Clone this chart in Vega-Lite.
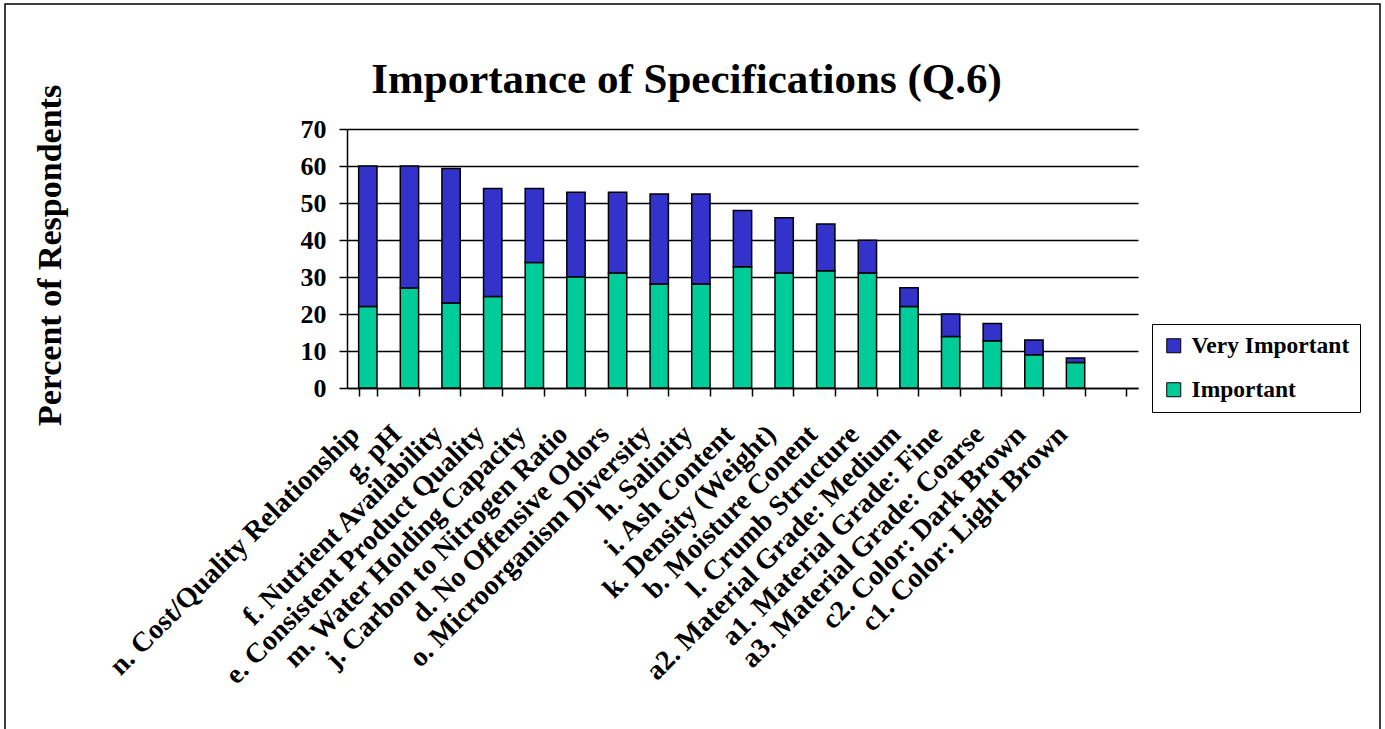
{
  "$schema": "https://vega.github.io/schema/vega-lite/v6.json",
  "width": 1375,
  "height": 727,
  "autosize": {"type": "none"},
  "padding": {"left": 5, "top": 4, "right": 5, "bottom": 0},
  "background": "white",
  "title": {
    "text": "Importance of Specifications (Q.6)",
    "font": "Liberation Serif",
    "fontSize": 43,
    "fontWeight": "bold",
    "color": "black",
    "anchor": "middle",
    "frame": "group",
    "dx": -6,
    "offset": -132,
    "baseline": "alphabetic"
  },
  "data": {
    "values": [
      {"spec": "n. Cost/Quality Relationship", "level": "Important", "percent": 22.0},
      {"spec": "n. Cost/Quality Relationship", "level": "Very Important", "percent": 38.0},
      {"spec": "g. pH", "level": "Important", "percent": 27.0},
      {"spec": "g. pH", "level": "Very Important", "percent": 33.0},
      {"spec": "f. Nutrient Availability", "level": "Important", "percent": 23.0},
      {"spec": "f. Nutrient Availability", "level": "Very Important", "percent": 36.3},
      {"spec": "e. Consistent Product Quality", "level": "Important", "percent": 24.7},
      {"spec": "e. Consistent Product Quality", "level": "Very Important", "percent": 29.2},
      {"spec": "m. Water Holding Capacity", "level": "Important", "percent": 33.9},
      {"spec": "m. Water Holding Capacity", "level": "Very Important", "percent": 20.0},
      {"spec": "j. Carbon to Nitrogen Ratio", "level": "Important", "percent": 30.1},
      {"spec": "j. Carbon to Nitrogen Ratio", "level": "Very Important", "percent": 22.8},
      {"spec": "d. No Offensive Odors", "level": "Important", "percent": 31.1},
      {"spec": "d. No Offensive Odors", "level": "Very Important", "percent": 21.8},
      {"spec": "o. Microorganism Diversity", "level": "Important", "percent": 28.1},
      {"spec": "o. Microorganism Diversity", "level": "Very Important", "percent": 24.3},
      {"spec": "h. Salinity", "level": "Important", "percent": 28.1},
      {"spec": "h. Salinity", "level": "Very Important", "percent": 24.3},
      {"spec": "i. Ash Content", "level": "Important", "percent": 32.8},
      {"spec": "i. Ash Content", "level": "Very Important", "percent": 15.2},
      {"spec": "k. Density (Weight)", "level": "Important", "percent": 31.1},
      {"spec": "k. Density (Weight)", "level": "Very Important", "percent": 14.9},
      {"spec": "b. Moisture Conent", "level": "Important", "percent": 31.7},
      {"spec": "b. Moisture Conent", "level": "Very Important", "percent": 12.6},
      {"spec": "l. Crumb Structure", "level": "Important", "percent": 31.1},
      {"spec": "l. Crumb Structure", "level": "Very Important", "percent": 8.8},
      {"spec": "a2. Material Grade: Medium", "level": "Important", "percent": 22.0},
      {"spec": "a2. Material Grade: Medium", "level": "Very Important", "percent": 5.1},
      {"spec": "a1. Material Grade: Fine", "level": "Important", "percent": 13.9},
      {"spec": "a1. Material Grade: Fine", "level": "Very Important", "percent": 6.1},
      {"spec": "a3. Material Grade: Coarse", "level": "Important", "percent": 12.8},
      {"spec": "a3. Material Grade: Coarse", "level": "Very Important", "percent": 4.6},
      {"spec": "c2. Color: Dark Brown", "level": "Important", "percent": 9.0},
      {"spec": "c2. Color: Dark Brown", "level": "Very Important", "percent": 4.0},
      {"spec": "c1. Color: Light Brown", "level": "Important", "percent": 6.9},
      {"spec": "c1. Color: Light Brown", "level": "Very Important", "percent": 1.2}
    ]
  },
  "mark": {"type": "bar", "stroke": "black", "strokeWidth": 1.5},
  "encoding": {
    "x": {
      "field": "spec",
      "type": "nominal",
      "scale": {
        "domain": [
          "n. Cost/Quality Relationship",
          "g. pH",
          "f. Nutrient Availability",
          "e. Consistent Product Quality",
          "m. Water Holding Capacity",
          "j. Carbon to Nitrogen Ratio",
          "d. No Offensive Odors",
          "o. Microorganism Diversity",
          "h. Salinity",
          "i. Ash Content",
          "k. Density (Weight)",
          "b. Moisture Conent",
          "l. Crumb Structure",
          "a2. Material Grade: Medium",
          "a1. Material Grade: Fine",
          "a3. Material Grade: Coarse",
          "c2. Color: Dark Brown",
          "c1. Color: Light Brown",
          " "
        ],
        "range": [342, 1133],
        "paddingInner": 0.56,
        "paddingOuter": 0.28
      },
      "axis": {
        "title": null,
        "offset": -343,
        "labelAngle": -45,
        "labelAlign": "right",
        "labelBaseline": "middle",
        "labelFont": "Liberation Serif",
        "labelFontSize": 28,
        "labelFontWeight": "bold",
        "labelColor": "black",
        "labelPadding": 34,
        "labelOffset": -13,
        "labelLimit": 600,
        "labelOverlap": false,
        "tickBand": "extent",
        "tickSize": 8,
        "tickColor": "black",
        "tickWidth": 1.5,
        "domainColor": "black",
        "domainWidth": 1.5,
        "grid": false
      }
    },
    "y": {
      "field": "percent",
      "type": "quantitative",
      "stack": "zero",
      "scale": {"domain": [0, 70], "nice": false, "range": [384, 125]},
      "axis": {
        "title": "Percent of Respondents",
        "offset": -342,
        "titleFont": "Liberation Serif",
        "titleFontSize": 34,
        "titleFontWeight": "bold",
        "titleColor": "black",
        "titleAngle": 270,
        "titleAlign": "center",
        "titleBaseline": "alphabetic",
        "titleX": -287,
        "titleY": 251,
        "values": [0, 10, 20, 30, 40, 50, 60, 70],
        "labelFont": "Liberation Serif",
        "labelFontSize": 26,
        "labelFontWeight": "bold",
        "labelColor": "black",
        "labelPadding": 13,
        "tickSize": 8,
        "tickColor": "black",
        "tickWidth": 1.5,
        "domainColor": "black",
        "domainWidth": 1.5,
        "grid": true,
        "gridColor": "black",
        "gridWidth": 1.5,
        "gridOpacity": 1
      }
    },
    "order": {"field": "level", "type": "nominal", "sort": "ascending"},
    "color": {
      "field": "level",
      "type": "nominal",
      "scale": {
        "domain": ["Very Important", "Important"],
        "range": ["#3333CC", "#00CC99"]
      },
      "legend": {
        "title": null,
        "orient": "none",
        "legendX": 1147,
        "legendY": 320,
        "direction": "vertical",
        "strokeColor": "black",
        "fillColor": "white",
        "padding": 10,
        "labelFont": "Liberation Serif",
        "labelFontSize": 23.5,
        "labelFontWeight": "bold",
        "labelColor": "black",
        "labelLimit": 400,
        "labelOffset": 6,
        "symbolType": "square",
        "symbolSize": 196,
        "symbolStrokeColor": "black",
        "symbolStrokeWidth": 1,
        "symbolOpacity": 1,
        "rowPadding": 19
      }
    }
  },
  "config": {"view": {"stroke": "black", "strokeWidth": 1.5}}
}
